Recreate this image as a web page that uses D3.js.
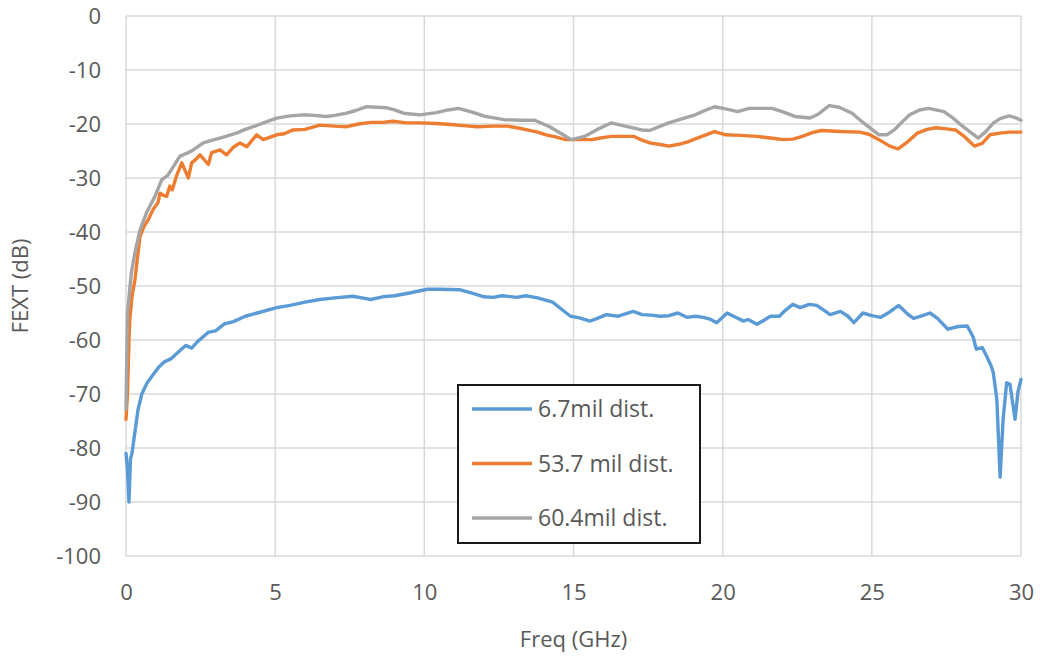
<!DOCTYPE html>
<html>
<head>
<meta charset="utf-8">
<script src="https://cdn.jsdelivr.net/npm/d3@7"></script>
<style>
  html, body { margin: 0; padding: 0; background: #fff; }
  svg text { font-family: "Open Sans", sans-serif; fill: #595959; }
</style>
</head>
<body>
<svg id="chart" width="1040" height="660"></svg>
<script>
// FEXT vs frequency for three trace separations
const seriesNames = ["6.7mil dist.", "53.7 mil dist.", "60.4mil dist."];
const seriesColors = ["#5B9BD5", "#ED7D31", "#A5A5A5"];

const freqA = [0.0,0.05,0.1,0.15,0.2,0.3,0.4,0.53,0.7,0.9,1.1,1.3,1.5,1.7,2.0,2.2,2.4,2.75,3.0,3.3,3.6,4.0,4.4,5.05,5.5,6.0,6.5,7.0,7.6,8.0,8.2,8.6,9.0,9.5,10.1,10.5,11.2,11.6,12.0,12.3,12.6,13.1,13.4,13.8,14.3,14.6,14.9,15.2,15.55,15.8,16.1,16.5,17.0,17.3,17.6,17.9,18.2,18.5,18.8,19.1,19.35,19.6,19.8,20.15,20.4,20.7,20.85,21.15,21.4,21.6,21.9,22.1,22.35,22.6,22.9,23.15,23.4,23.6,23.95,24.2,24.4,24.7,25.0,25.3,25.6,25.9,26.2,26.4,26.7,26.95,27.2,27.55,27.9,28.2,28.4,28.5,28.7,28.85,29.0,29.07,29.19,29.3,29.4,29.52,29.63,29.8,29.9,30.0];
const fextA = [-81,-84,-90,-82,-81,-77,-73,-70,-68,-66.5,-65,-64,-63.5,-62.5,-61,-61.5,-60.3,-58.6,-58.3,-57,-56.6,-55.6,-55,-54,-53.6,-53,-52.5,-52.2,-51.9,-52.3,-52.5,-52,-51.8,-51.3,-50.6,-50.6,-50.7,-51.3,-52,-52.1,-51.8,-52.1,-51.8,-52.2,-53,-54.3,-55.6,-55.9,-56.5,-56,-55.3,-55.6,-54.7,-55.3,-55.4,-55.6,-55.5,-55,-55.8,-55.6,-55.8,-56.2,-56.8,-55,-55.7,-56.5,-56.2,-57.1,-56.3,-55.6,-55.6,-54.5,-53.4,-54,-53.4,-53.6,-54.5,-55.3,-54.7,-55.6,-56.8,-55,-55.5,-55.8,-54.8,-53.6,-55.2,-56,-55.5,-55,-56,-58,-57.5,-57.4,-59.5,-61.7,-61.4,-63,-64.8,-66,-71,-85.4,-74.7,-67.9,-68.2,-74.7,-69.5,-67.3];

const freqB = [0.0,0.05,0.1,0.13,0.2,0.3,0.4,0.47,0.6,0.75,0.9,1.07,1.14,1.25,1.36,1.47,1.55,1.7,1.87,2.09,2.2,2.35,2.48,2.76,2.87,3.15,3.37,3.6,3.82,4.05,4.38,4.6,5.05,5.3,5.6,6.0,6.5,7.0,7.4,7.8,8.2,8.6,8.95,9.4,9.85,10.4,10.88,11.3,11.78,12.3,12.8,13.1,13.45,13.8,14.08,14.4,14.73,15.2,15.62,15.9,16.27,16.6,17.03,17.3,17.55,17.9,18.19,18.5,18.83,19.3,19.73,20.1,20.6,21.14,21.6,22.03,22.35,22.67,23.0,23.3,23.95,24.6,24.9,25.24,25.6,25.88,26.2,26.52,26.85,27.16,27.5,27.8,28.1,28.44,28.7,28.96,29.3,29.6,30.0];
const fextB = [-74.7,-70,-60,-56,-52,-48.8,-44,-40.8,-39,-37.7,-35.9,-34.6,-32.8,-33.2,-33.4,-31.5,-32.2,-29.5,-27.2,-30,-27.2,-26.5,-25.7,-27.5,-25.3,-24.8,-25.7,-24.3,-23.5,-24.2,-22,-22.9,-22,-21.8,-21.1,-21,-20.2,-20.4,-20.5,-20,-19.7,-19.7,-19.5,-19.8,-19.8,-19.9,-20.1,-20.3,-20.5,-20.4,-20.4,-20.7,-21.1,-21.5,-22,-22.4,-22.9,-22.9,-22.9,-22.6,-22.3,-22.3,-22.3,-23,-23.5,-23.8,-24.1,-23.8,-23.3,-22.3,-21.4,-22,-22.1,-22.3,-22.6,-22.9,-22.8,-22.3,-21.6,-21.2,-21.4,-21.5,-21.9,-22.9,-24.1,-24.6,-23.3,-21.7,-21,-20.7,-20.9,-21.1,-22.3,-24.1,-23.6,-22,-21.7,-21.5,-21.5];

const freqC = [0.0,0.05,0.18,0.3,0.47,0.69,0.97,1.2,1.4,1.6,1.8,2.05,2.25,2.59,2.9,3.15,3.4,3.7,4.0,4.27,4.7,5.05,5.5,5.95,6.3,6.7,7.0,7.4,7.7,8.07,8.4,8.74,9.0,9.3,9.85,10.4,10.8,11.14,11.6,12.04,12.67,13.2,13.7,14.2,14.6,14.92,15.37,15.8,16.26,16.8,17.29,17.55,18.19,18.6,19.08,19.4,19.73,20.1,20.5,20.88,21.3,21.65,22.0,22.42,22.93,23.2,23.57,23.9,24.34,24.72,25.0,25.24,25.5,25.75,26.0,26.27,26.6,26.9,27.42,27.7,28.06,28.3,28.57,28.8,29.08,29.3,29.6,29.8,30.0];
const fextC = [-72.8,-55,-47.5,-43.8,-39.6,-36.4,-33.4,-30.3,-29.5,-27.8,-26,-25.4,-24.8,-23.5,-23,-22.6,-22.2,-21.7,-21,-20.5,-19.6,-18.9,-18.5,-18.3,-18.4,-18.6,-18.4,-18,-17.5,-16.8,-16.9,-17,-17.4,-18,-18.3,-17.9,-17.4,-17.1,-17.8,-18.6,-19.2,-19.3,-19.3,-20.5,-21.8,-22.9,-22.3,-21,-19.8,-20.5,-21.1,-21.2,-19.8,-19.1,-18.3,-17.5,-16.8,-17.2,-17.7,-17.1,-17.1,-17.1,-17.7,-18.6,-18.9,-18.2,-16.6,-16.9,-18,-19.8,-21,-22,-22,-21.1,-19.7,-18.3,-17.4,-17.1,-17.7,-18.8,-20.5,-21.5,-22.6,-21.5,-19.8,-19,-18.5,-18.8,-19.3];

const xTicks = [0, 5, 10, 15, 20, 25, 30];
const yTicks = [0, -10, -20, -30, -40, -50, -60, -70, -80, -90, -100];

const series = [
  { name: seriesNames[0], color: seriesColors[0], freq: freqA, fext: fextA },
  { name: seriesNames[1], color: seriesColors[1], freq: freqB, fext: fextB },
  { name: seriesNames[2], color: seriesColors[2], freq: freqC, fext: fextC }
];

const svg = d3.select("#chart");
const plot = { left: 126, right: 1021, top: 16, bottom: 556 };

const x = d3.scaleLinear().domain([0, 30]).range([plot.left, plot.right]);
const y = d3.scaleLinear().domain([-100, 0]).range([plot.bottom, plot.top]);

// Gridlines
const grid = svg.append("g");
grid.selectAll("line.h").data(yTicks).enter().append("line")
  .attr("x1", plot.left).attr("x2", plot.right)
  .attr("y1", d => y(d)).attr("y2", d => y(d))
  .attr("stroke", "#d9d9d9").attr("stroke-width", 1.5);
grid.selectAll("line.v").data(xTicks).enter().append("line")
  .attr("y1", plot.top).attr("y2", plot.bottom)
  .attr("x1", d => x(d)).attr("x2", d => x(d))
  .attr("stroke", "#d9d9d9").attr("stroke-width", 1.5);

// Axes (labels only; the frame comes from the grid)
const plain = d => String(d);
const xAxis = svg.append("g")
  .attr("transform", `translate(0,${plot.bottom})`)
  .call(d3.axisBottom(x).tickValues(xTicks).tickFormat(plain).tickSize(0).tickPadding(28));
const yAxis = svg.append("g")
  .attr("transform", `translate(${plot.left},0)`)
  .call(d3.axisLeft(y).tickValues(yTicks).tickFormat(plain).tickSize(0).tickPadding(25));
[xAxis, yAxis].forEach(a => {
  a.select(".domain").remove();
  a.selectAll("text").attr("font-size", 22)
    .style("font-family", "'Open Sans', sans-serif")
    .attr("fill", "#595959");
});

// Series lines
const line = d3.line().x(d => x(d[0])).y(d => y(d[1]));
svg.append("g").selectAll("path").data(series).enter().append("path")
  .attr("d", s => line(d3.zip(s.freq, s.fext)))
  .attr("fill", "none")
  .attr("stroke", s => s.color)
  .attr("stroke-width", 3.4)
  .attr("stroke-linejoin", "round")
  .attr("stroke-linecap", "round");

// Axis titles
svg.append("text")
  .attr("x", (plot.left + plot.right) / 2).attr("y", 647)
  .attr("text-anchor", "middle").attr("font-size", 22)
  .text("Freq (GHz)");
svg.append("text")
  .attr("transform", `translate(28,${(plot.top + plot.bottom) / 2}) rotate(-90)`)
  .attr("text-anchor", "middle").attr("font-size", 22)
  .text("FEXT (dB)");

// Legend
const lg = svg.append("g").attr("transform", "translate(458,385)");
lg.append("rect").attr("width", 242).attr("height", 158)
  .attr("fill", "#fff").attr("stroke", "#1a1a1a").attr("stroke-width", 2);
const rows = lg.selectAll("g.row").data(series).enter().append("g")
  .attr("transform", (d, i) => `translate(0,${24 + i * 54.5})`);
rows.append("line").attr("x1", 14).attr("x2", 74)
  .attr("stroke", d => d.color).attr("stroke-width", 3.4);
rows.append("text").attr("x", 80).attr("dy", "0.35em")
  .attr("font-size", 23).text(d => d.name);
</script>
</body>
</html>
